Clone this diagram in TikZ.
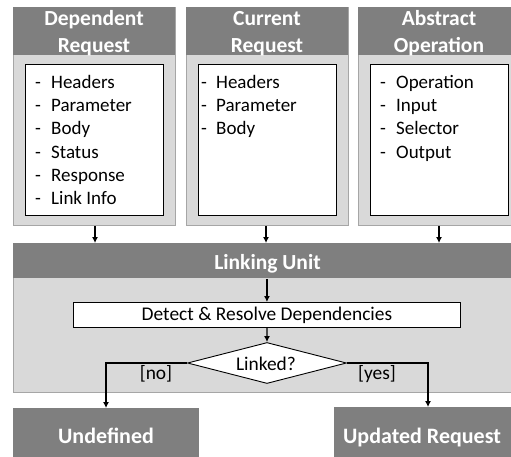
\documentclass[tikz,border=0pt]{standalone}
\usepackage{fontspec}
\setmainfont{Carlito}
\usetikzlibrary{shapes.geometric,arrows.meta}

\definecolor{hdrgray}{HTML}{7F7F7F}
\definecolor{panelgray}{HTML}{D9D9D9}
\definecolor{edgegray}{HTML}{A6A6A6}

\tikzset{
  box/.style={draw, rectangle, inner sep=0pt, anchor=north west, line width=0.9pt},
  panel/.style={box, fill=panelgray, draw=edgegray},
  header/.style={box, fill=hdrgray, draw=none},
  hdrtext/.style={text=white, align=center, inner sep=0pt,
    font=\fontsize{21.5}{27}\selectfont\bfseries},
  inner/.style={box, fill=white, draw=black},
  result/.style={box, fill=hdrgray, draw=none},
  restext/.style={anchor=base, inner sep=0pt, text=white,
    font=\fontsize{22}{26}\selectfont\bfseries},
  item/.style={anchor=base west, inner sep=0pt, font=\fontsize{19}{23}\selectfont},
  plain/.style={font=\fontsize{19.4}{23}\selectfont},
  flow/.style={line width=1.1pt, -{Latex[length=6pt,width=6pt]}}
}

\newcommand{\dashitem}[2]{\makebox[#1][l]{-}#2}

\begin{document}
\begin{tikzpicture}[x=1pt, y=-1pt]
  \useasboundingbox (0,0) rectangle (511,456);
  \clip (0,0) rectangle (511,456);

  % ---- three input panels (two-line titles: base anchor = second line) ----
  \node[panel, minimum width=162, minimum height=218] (dep) at (13,7) {};
  \node[header, minimum width=162, minimum height=48] (dephdr) at (13,7) {};
  \node[hdrtext, anchor=base] (deptitle) at (94,52) {Dependent\\Request};
  \node[inner, minimum width=138, minimum height=151] (depbox) at (25,64) {};

  \node[panel, minimum width=162, minimum height=218] (cur) at (186,7) {};
  \node[header, minimum width=162, minimum height=48] (curhdr) at (186,7) {};
  \node[hdrtext, anchor=base] (curtitle) at (267,52) {Current\\Request};
  \node[inner, minimum width=138, minimum height=151] (curbox) at (198,64) {};

  \node[panel, minimum width=162, minimum height=218] (abs) at (358,7) {};
  \node[header, minimum width=162, minimum height=48] (abshdr) at (358,7) {};
  \node[hdrtext, anchor=base] (abstitle) at (439,52) {Abstract\\Operation};
  \node[inner, minimum width=138, minimum height=151] (absbox) at (370,64) {};

  % list entries
  \node[item] (d1) at (35,88.3) {\dashitem{16pt}{Headers}};
  \node[item] (d2) at (35,111.6) {\dashitem{16pt}{Parameter}};
  \node[item] (d3) at (35,134.9) {\dashitem{16pt}{Body}};
  \node[item] (d4) at (35,158.2) {\dashitem{16pt}{Status}};
  \node[item] (d5) at (35,181.5) {\dashitem{16pt}{Response}};
  \node[item] (d6) at (35,204.8) {\dashitem{16pt}{Link Info}};

  \node[item] (c1) at (201,88.3) {\dashitem{15pt}{Headers}};
  \node[item] (c2) at (201,111.6) {\dashitem{15pt}{Parameter}};
  \node[item] (c3) at (201,134.9) {\dashitem{15pt}{Body}};

  \node[item] (a1) at (380,88.3) {\dashitem{16pt}{Operation}};
  \node[item] (a2) at (380,111.6) {\dashitem{16pt}{Input}};
  \node[item] (a3) at (380,134.9) {\dashitem{16pt}{Selector}};
  \node[item] (a4) at (380,158.2) {\dashitem{16pt}{Output}};

  % ---- linking unit ----
  \node[panel, minimum width=509, minimum height=149] (link) at (13,243) {};
  \node[header, minimum width=509, minimum height=35] (linkhdr) at (13,243) {};
  \node[hdrtext, anchor=base] (linktitle) at (267.5,269) {Linking Unit};

  \node[inner, plain, minimum width=387, minimum height=25] (detect) at (73,302)
    {Detect \& Resolve Dependencies};
  \node[diamond, draw=black, fill=white, line width=0.9pt, inner sep=0pt,
        minimum width=159, minimum height=41] (linked) at (267,363) {};
  \node[plain, inner sep=0pt, anchor=base] (linkedtxt) at (266,370) {Linked?};

  % ---- outcomes ----
  \node[result, minimum width=186, minimum height=57] (undef) at (13,408) {};
  \node[restext] (undeftxt) at (106,443) {Undefined};
  \node[result, minimum width=177, minimum height=58] (upd) at (334,407) {};
  \node[restext] (updtxt) at (422,443) {Updated Request};

  % ---- connectors ----
  \draw[flow] (dep.south -| 95,0) -- (link.north -| 95,0);
  \draw[flow] (cur.south -| 266,0) -- (link.north -| 266,0);
  \draw[flow] (abs.south -| 439,0) -- (link.north -| 439,0);

  \draw[flow] (linkhdr.south -| detect.north) -- (detect.north);
  \draw[flow] (detect.south) -- (linked.north);

  \coordinate (nocorner) at (106,363);
  \coordinate (yescorner) at (428,363);
  \draw[flow] (linked.west) -- (nocorner) -- (nocorner |- undef.north);
  \draw[flow] (linked.east) -- (yescorner) -- (yescorner |- upd.north);

  \node[plain, inner sep=0pt, anchor=base] (nolbl) at (156,379) {[no]};
  \node[plain, inner sep=0pt, anchor=base] (yeslbl) at (377,379) {[yes]};
\end{tikzpicture}
\end{document}
